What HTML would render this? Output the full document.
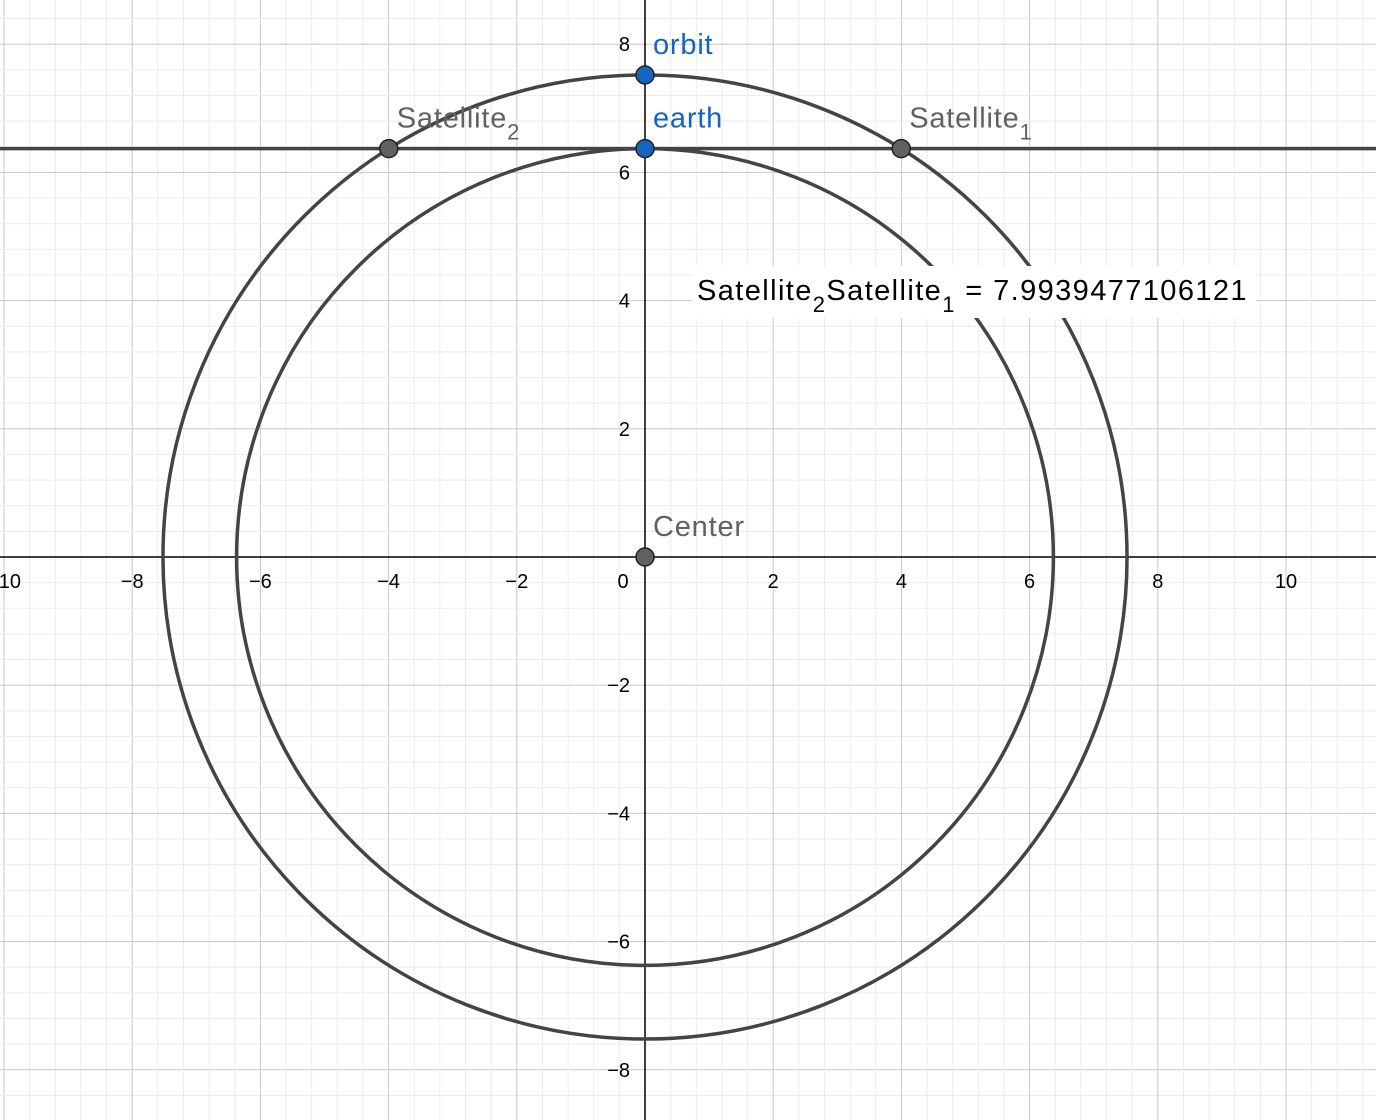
<!DOCTYPE html>
<html><head><meta charset="utf-8"><style>
html,body{margin:0;padding:0;background:#fff;width:1376px;height:1120px;overflow:hidden}
svg text{font-family:"Liberation Sans",Arial,sans-serif}
</style></head><body>
<svg id="plot" width="1376" height="1120" xmlns="http://www.w3.org/2000/svg"></svg>
<script>
const circleRadii=[6.371,7.52];
const circleNames=['earth-circle','orbit-circle'];
const pointXs=[0,0,0,-3.997,3.997];
const pointYs=[0,7.52,6.371,6.371,6.371];
const pointLabels=['Center','orbit','earth','Satellite','Satellite'];
const pointSubs=['','','','2','1'];
const pointColors=['#616161','#1565c0','#1565c0','#616161','#616161'];
const labelColors=['#616161','#1565c0','#1565c0','#616161','#616161'];
const lineY=6.371;
const xTicks=[-10,-8,-6,-4,-2,2,4,6,8,10];
const yTicks=[-8,-6,-4,-2,2,4,6,8];
const distanceText='7.9939477106121';

const S=64.1, OX=645, OY=557;
const sx=x=>OX+x*S, sy=y=>OY-y*S;
const svg=document.getElementById('plot');
const NS='http://www.w3.org/2000/svg';
function mk(t,a,p){const e=document.createElementNS(NS,t);for(const k in a)e.setAttribute(k,a[k]);(p||svg).appendChild(e);return e;}
const grid=mk('g',{});


for(let i=-30;i<=30;i++){const v=i*0.4;const maj=i%5===0;
 const col=maj?'#c8c8c8':'#ececec';
 const x=sx(v); if(x>-1&&x<1377) mk('line',{x1:x,y1:0,x2:x,y2:1120,stroke:col,'stroke-width':1},grid);
 const y=sy(v); if(y>-1&&y<1121) mk('line',{x1:0,y1:y,x2:1376,y2:y,stroke:col,'stroke-width':1},grid);
}
const xa=mk('line',{x1:0,y1:OY,x2:1376,y2:OY,stroke:'#000','stroke-width':1.5});


const ya=mk('line',{x1:OX,y1:0,x2:OX,y2:1120,stroke:'#000','stroke-width':1.5});


xTicks.forEach(v=>{const t=mk('text',{x:sx(v),y:OY+31,'text-anchor':'middle','font-size':20,fill:'#000'});t.textContent=(v<0?'\u2212':'')+Math.abs(v);
 
 });
const z=mk('text',{x:OX-22,y:OY+31,'text-anchor':'middle','font-size':20});z.textContent='0';


yTicks.forEach(v=>{const t=mk('text',{x:OX-15,y:sy(v)+7,'text-anchor':'end','font-size':20,fill:'#000'});t.textContent=(v<0?'\u2212':'')+Math.abs(v);
 
 });
circleRadii.forEach((r,i)=>{const c=mk('circle',{cx:sx(0),cy:sy(0),r:r*S,fill:'none',stroke:'#444','stroke-width':3.5});
 
 });
const hl=mk('line',{x1:0,y1:sy(lineY),x2:1376,y2:sy(lineY),stroke:'#444','stroke-width':3.5});


const bg=mk('rect',{x:692,y:266,width:564,height:52,fill:'#fff'});


const dt=mk('text',{x:697,y:300,'font-size':29,fill:'#000','letter-spacing':1.4});


dt.innerHTML='Satellite<tspan font-size="22" dy="12">2</tspan><tspan dy="-12">Satellite</tspan><tspan font-size="22" dy="12">1</tspan><tspan dy="-12"> = '+distanceText+'</tspan>';
pointXs.forEach((x,i)=>{
 const c=mk('circle',{cx:sx(x),cy:sy(pointYs[i]),r:9,fill:pointColors[i],stroke:'#222','stroke-width':1.5});
 
 
 const t=mk('text',{x:sx(x)+8,y:sy(pointYs[i])-21,'font-size':29,fill:labelColors[i],'letter-spacing':0.8});
 
 
 t.innerHTML=pointLabels[i]+(pointSubs[i]?'<tspan font-size="22" dy="12">'+pointSubs[i]+'</tspan>':'');
});
</script>
</body></html>
